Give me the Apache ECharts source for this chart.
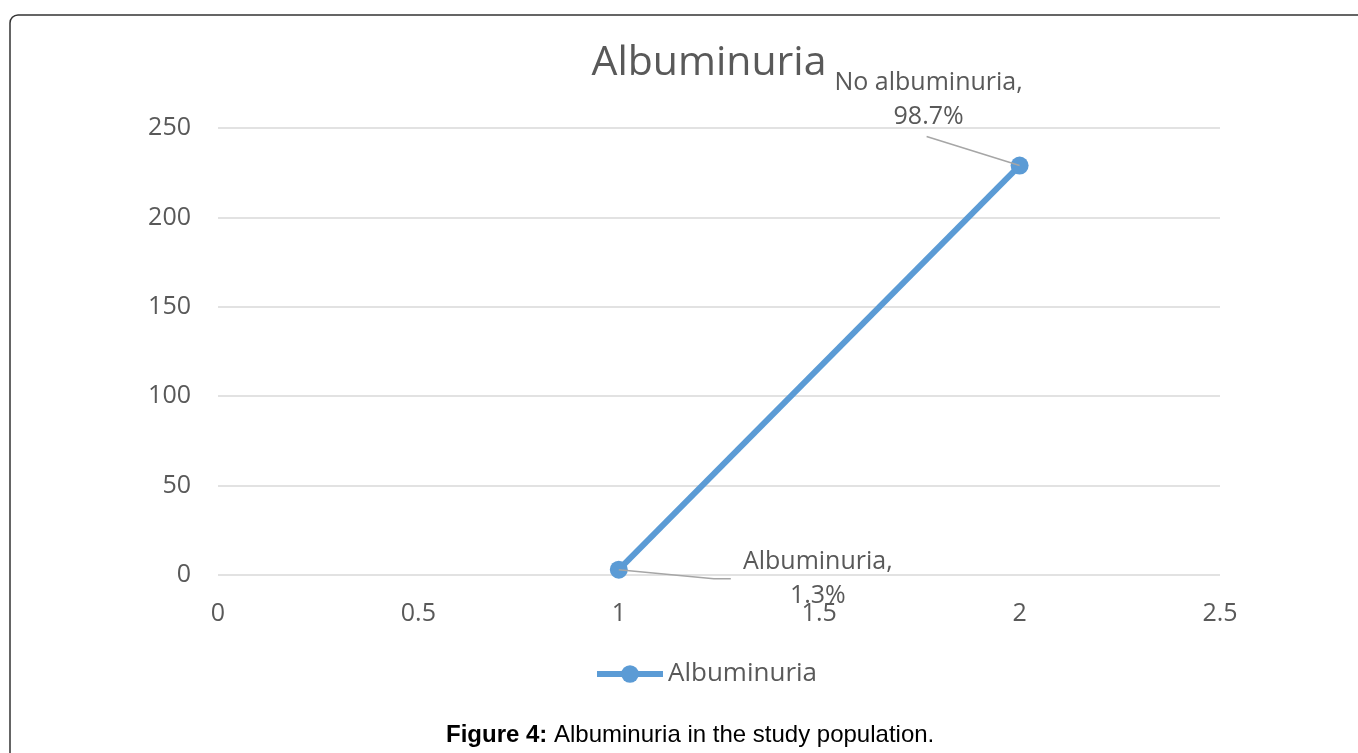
<!DOCTYPE html>
<html>
<head>
<meta charset="utf-8">
<script src="https://cdn.jsdelivr.net/npm/echarts@6/dist/echarts.min.js"></script>
<style>
html,body{margin:0;padding:0;background:#fff;}
#chart{width:1358px;height:753px;}
</style>
</head>
<body>
<div id="chart"></div>
<script>
const seriesName = 'Albuminuria';
const xValues = [1, 2];
const yValues = [3, 229];
const pointLabels = ['Albuminuria,\n1.3%', 'No albuminuria,\n98.7%'];
const xTicks = [0, 0.5, 1, 1.5, 2, 2.5];
const yTicks = [0, 50, 100, 150, 200, 250];

const chart = echarts.init(document.getElementById('chart'));
const FONT = '"Open Sans", "Noto Sans", sans-serif';
const data = xValues.map((x, i) => ({ value: [x, yValues[i]], label: { formatter: pointLabels[i] } }));
// label offsets (px) relative to the point, and leader line paths (px offsets from the point)
const labelShifts = [[199, 9], [-91, -66]];
const leaderPaths = [[[0, 0], [95, 9], [112, 9]], [[0, 0], [-93, -29]]];

chart.setOption({
  animation: false,
  textStyle: { fontFamily: FONT },
  title: {
    text: 'Albuminuria',
    left: 704, top: 38, textAlign: 'center',
    textStyle: { fontFamily: FONT, fontSize: 41, fontWeight: 'normal', color: '#595959' }
  },
  legend: {
    top: 656, left: 589,
    itemWidth: 66, itemHeight: 22, itemGap: 8,
    textStyle: { fontFamily: FONT, fontSize: 26, color: '#595959' },
    lineStyle: { width: 6, color: '#5B9BD5' },
    itemStyle: { color: '#5B9BD5' },
    data: [seriesName]
  },
  grid: { left: 218, right: 138, top: 128, bottom: 178 },
  xAxis: {
    type: 'value', min: 0, max: 2.5, interval: 0.5,
    axisLine: { show: false }, axisTick: { show: false }, splitLine: { show: false },
    axisLabel: { fontFamily: FONT, fontSize: 25, color: '#595959', margin: 26 }
  },
  yAxis: {
    type: 'value', min: 0, max: 250, interval: 50,
    axisLine: { show: false }, axisTick: { show: false },
    splitLine: { lineStyle: { color: '#D9D9D9', width: 1.5 } },
    axisLabel: { fontFamily: FONT, fontSize: 25, color: '#595959', margin: 27 }
  },
  series: [{
    name: seriesName,
    type: 'line',
    data: data,
    symbol: 'circle', symbolSize: 18,
    itemStyle: { color: '#5B9BD5' },
    lineStyle: { color: '#5B9BD5', width: 6 },
    label: {
      show: true, position: 'inside',
      fontFamily: FONT, fontSize: 25, color: '#595959', lineHeight: 34, align: 'center'
    },
    labelLayout: function (p) {
      const s = labelShifts[p.dataIndex];
      return { dx: s[0], dy: s[1] };
    },
    z: 3
  }]
});

const graphics = [
  {
    type: 'rect', silent: true,
    shape: { x: 10, y: 15, width: 1400, height: 800, r: 8 },
    style: { fill: 'none', stroke: '#333', lineWidth: 1.5 }
  },
  {
    type: 'text', left: 446, top: 723,
    style: {
      text: '{b|Figure 4:} Albuminuria in the study population.',
      font: '24px "Liberation Sans", Arial, sans-serif',
      fill: '#000',
      rich: { b: { fontWeight: 'bold', fontSize: 24, fontFamily: '"Liberation Sans", Arial, sans-serif', fill: '#000' } }
    }
  }
];
xValues.forEach((x, i) => {
  const p = chart.convertToPixel({ seriesIndex: 0 }, [x, yValues[i]]);
  graphics.push({
    type: 'polyline', silent: true, z: 10,
    shape: { points: leaderPaths[i].map(o => [p[0] + o[0], p[1] + o[1]]) },
    style: { stroke: '#A6A6A6', lineWidth: 1.5, fill: null }
  });
});
chart.setOption({ graphic: graphics });
</script>
</body>
</html>
